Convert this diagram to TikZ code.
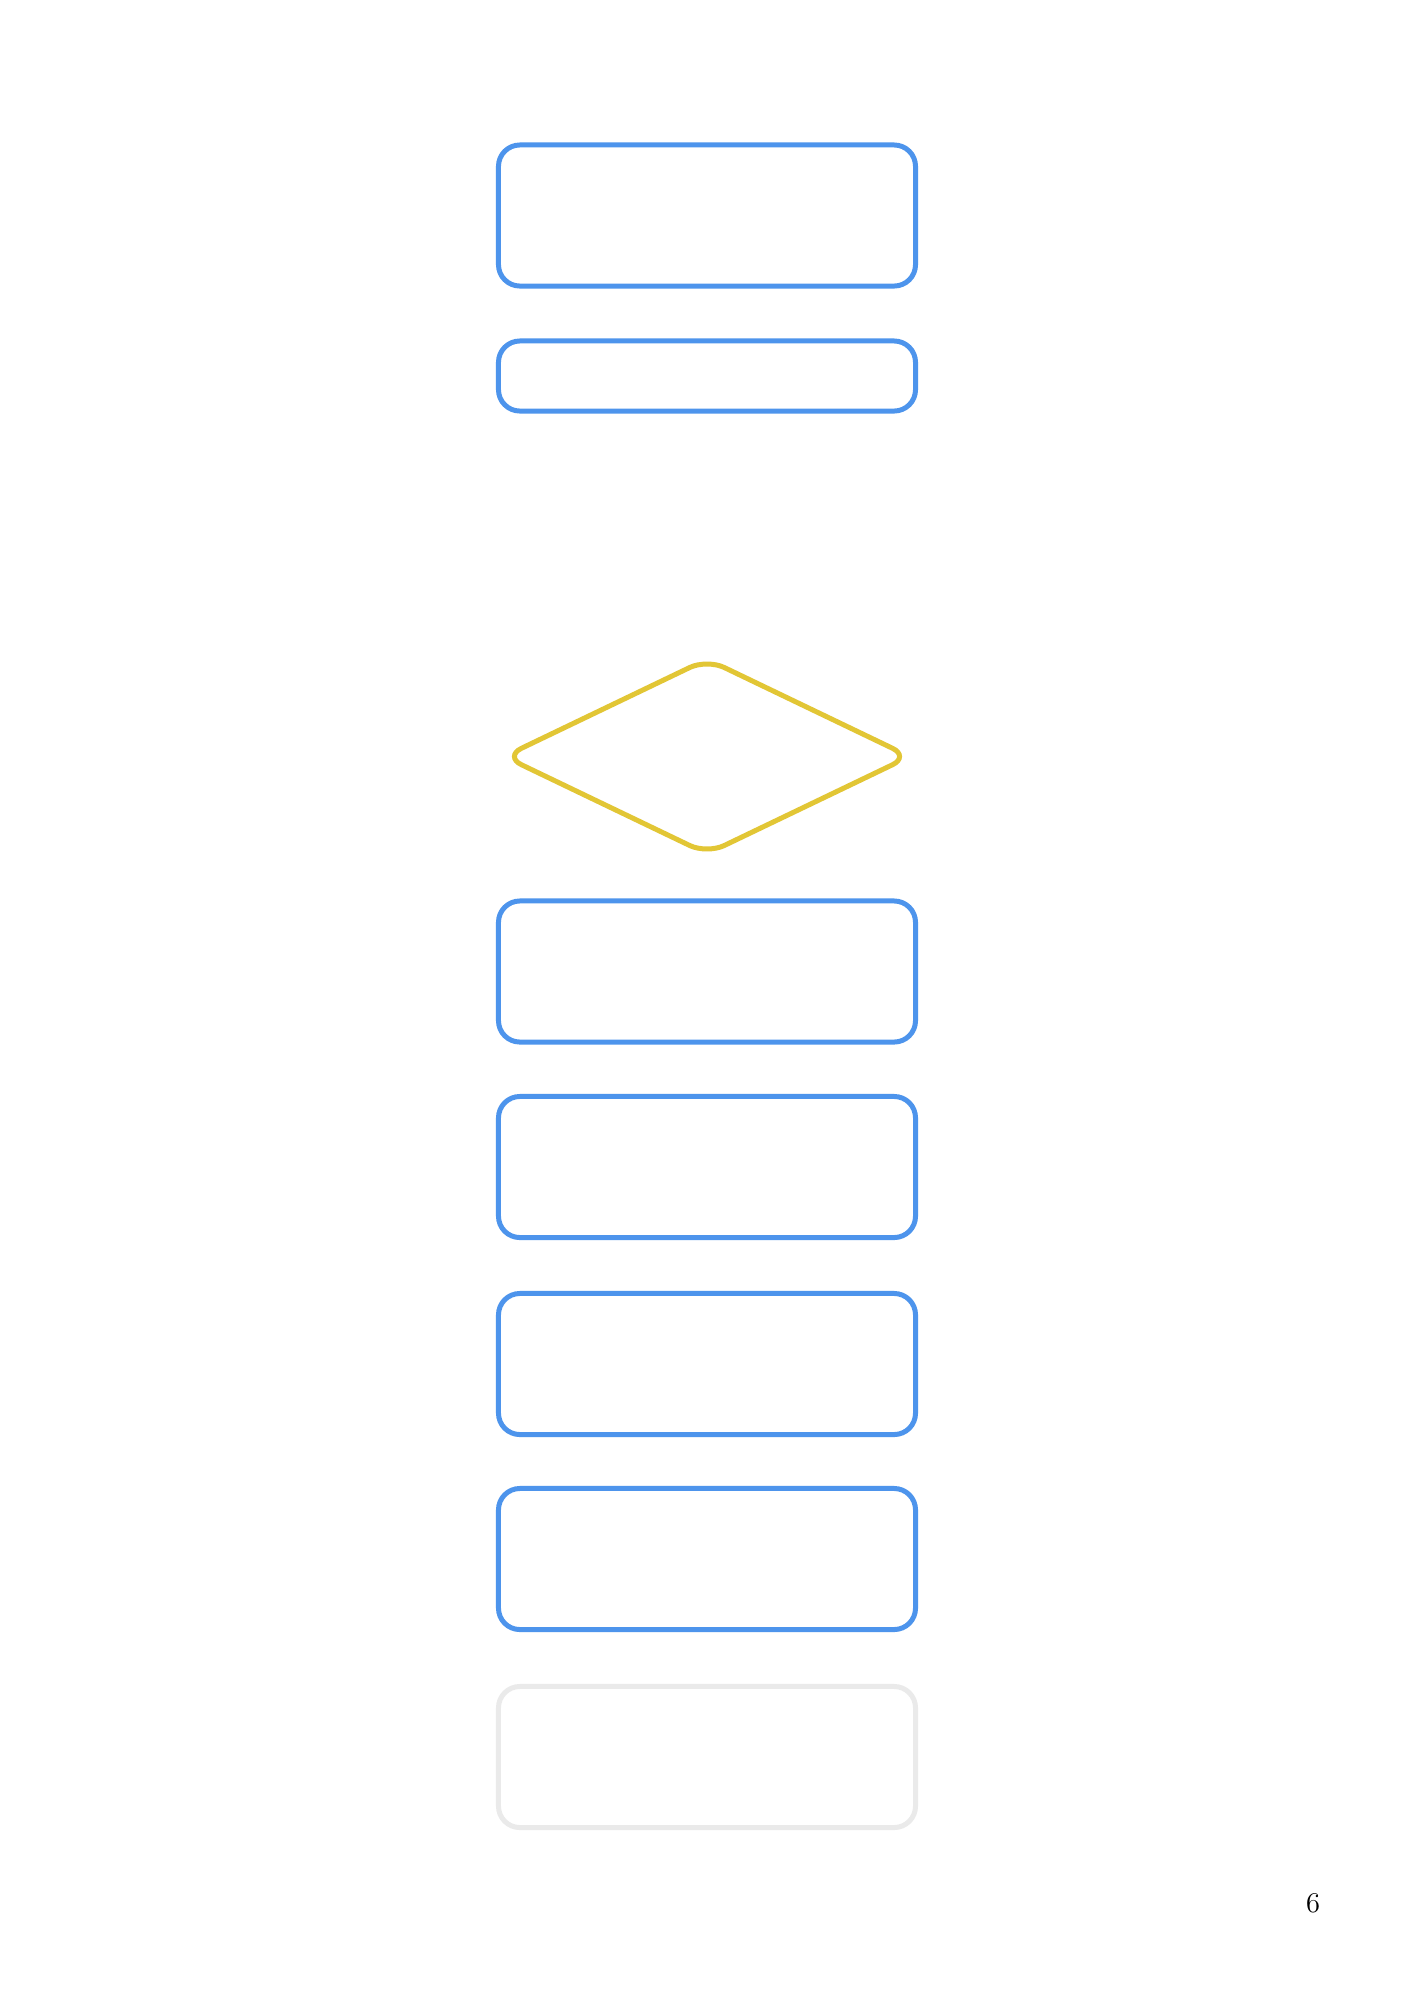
\documentclass[tikz,border=0pt]{standalone}
\usetikzlibrary{shapes.geometric}
\definecolor{boxblue}{HTML}{4D94EC}
\definecolor{decyellow}{HTML}{E2C635}
\definecolor{fadegray}{HTML}{EAEAEA}
\begin{document}
\begin{tikzpicture}[x=0.42105pt,y=-0.42105pt,
  stepbox/.style={draw=boxblue,line width=2.1pt,rounded corners=9pt,minimum width=175.6pt,minimum height=59.4pt,inner sep=0pt},
  decbox/.style={diamond,draw=decyellow,line width=2.1pt,rounded corners=8pt,minimum width=171.5pt,minimum height=82.8pt,inner sep=0pt},
  fadebox/.style={stepbox,draw=fadegray}]
\useasboundingbox[fill=white] (0,0) rectangle (1414,2000);
\node[stepbox] (b1) at (707,215.5) {};
\node[stepbox,minimum height=29.5pt] (b2) at (707,376) {};
\node[decbox] (d1) at (707,756.5) {};
\node[stepbox] (b3) at (707,971.5) {};
\node[stepbox] (b4) at (707,1167) {};
\node[stepbox] (b5) at (707,1364) {};
\node[stepbox] (b6) at (707,1559) {};
\node[fadebox] (b7) at (707,1757) {};
\node[font=\fontsize{12}{14}\selectfont] (pg) at (1313,1903) {6};
\end{tikzpicture}
\end{document}
